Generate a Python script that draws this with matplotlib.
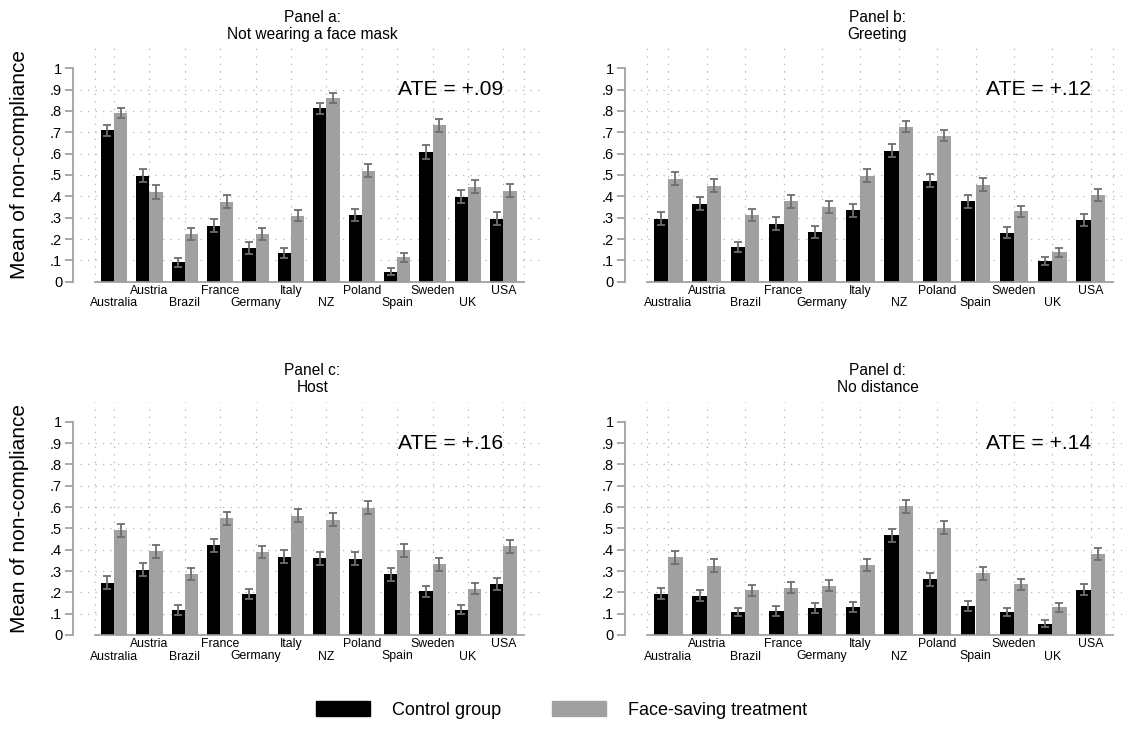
import numpy as np
import matplotlib
matplotlib.use("Agg")
from matplotlib import pyplot as plt
from matplotlib.patches import Patch

plt.rcParams['font.family'] = ['Liberation Sans', 'DejaVu Sans']

countries = ["Australia", "Austria", "Brazil", "France", "Germany", "Italy",
             "NZ", "Poland", "Spain", "Sweden", "UK", "USA"]

# Panel a: not wearing a face mask
mask_control = [0.710, 0.497, 0.092, 0.263, 0.158, 0.136, 0.813, 0.312, 0.047, 0.607, 0.398, 0.295]
mask_treat = [0.790, 0.420, 0.224, 0.375, 0.223, 0.310, 0.859, 0.520, 0.114, 0.732, 0.445, 0.426]
mask_control_err = [0.026, 0.031, 0.021, 0.030, 0.027, 0.023, 0.026, 0.029, 0.016, 0.033, 0.031, 0.030]
mask_treat_err = [0.025, 0.032, 0.027, 0.030, 0.027, 0.027, 0.023, 0.031, 0.021, 0.029, 0.030, 0.031]

# Panel b: greeting
greet_control = [0.296, 0.365, 0.163, 0.271, 0.235, 0.335, 0.614, 0.473, 0.376, 0.229, 0.097, 0.287]
greet_treat = [0.483, 0.450, 0.313, 0.376, 0.350, 0.497, 0.726, 0.685, 0.455, 0.329, 0.138, 0.406]
greet_control_err = [0.030, 0.030, 0.024, 0.030, 0.028, 0.030, 0.030, 0.030, 0.030, 0.026, 0.018, 0.028]
greet_treat_err = [0.031, 0.030, 0.028, 0.030, 0.028, 0.030, 0.026, 0.028, 0.030, 0.028, 0.021, 0.030]

# Panel c: host
host_control = [0.246, 0.306, 0.118, 0.420, 0.193, 0.368, 0.360, 0.357, 0.284, 0.204, 0.119, 0.240]
host_treat = [0.491, 0.393, 0.287, 0.547, 0.389, 0.560, 0.541, 0.596, 0.397, 0.332, 0.216, 0.415]
host_control_err = [0.029, 0.030, 0.022, 0.030, 0.025, 0.030, 0.030, 0.030, 0.030, 0.026, 0.022, 0.028]
host_treat_err = [0.031, 0.030, 0.028, 0.030, 0.030, 0.030, 0.030, 0.030, 0.030, 0.030, 0.026, 0.030]

# Panel d: no distance
dist_control = [0.193, 0.185, 0.107, 0.113, 0.127, 0.133, 0.467, 0.262, 0.136, 0.107, 0.053, 0.212]
dist_treat = [0.364, 0.324, 0.209, 0.221, 0.232, 0.328, 0.603, 0.503, 0.290, 0.237, 0.130, 0.380]
dist_control_err = [0.026, 0.025, 0.020, 0.022, 0.022, 0.023, 0.030, 0.030, 0.023, 0.020, 0.015, 0.026]
dist_treat_err = [0.030, 0.030, 0.026, 0.026, 0.027, 0.030, 0.030, 0.030, 0.030, 0.027, 0.022, 0.030]

titles = ["Panel a:\nNot wearing a face mask", "Panel b:\nGreeting",
          "Panel c:\nHost", "Panel d:\nNo distance"]
ates = ["ATE = +.09", "ATE = +.12", "ATE = +.16", "ATE = +.14"]

panels = [
    (mask_control, mask_treat, mask_control_err, mask_treat_err),
    (greet_control, greet_treat, greet_control_err, greet_treat_err),
    (host_control, host_treat, host_control_err, host_treat_err),
    (dist_control, dist_treat, dist_control_err, dist_treat_err),
]

W, H = 1123, 738
fig = plt.figure(figsize=(W / 100, H / 100), dpi=100)

# pixel geometry: (axes left, axes right, first group centre, last group centre, spine x)
cols = [(80, 545, 114.0, 503.4, 73.3), (633, 1122, 668.3, 1090.7, 625.0)]
# (axes top, y=0, y=1)
rows = [(48, 281.7, 68.3), (401.7, 635.0, 421.7)]

BLACK = "#000000"
GREY = "#a0a0a0"
ERR = "#6e6e6e"
AXIS = "#9a9a9a"
GRID = "#b4b4b4"

x = np.arange(len(countries))
bw = 0.373

for k, (ctrl, trt, ctrl_e, trt_e) in enumerate(panels):
    r, c = divmod(k, 2)
    left, right, c0, c11, spine_x = cols[c]
    top, y0, y1 = rows[r]
    per = (y0 - y1)
    ytop = (y0 - top) / per
    ax = fig.add_axes([left / W, 1 - y0 / H, (right - left) / W, (y0 - top) / H])
    step = (c11 - c0) / 11
    ax.set_xlim((left - c0) / step, 11 + (right - c11) / step)
    ax.set_ylim(0, ytop)

    lo_edge, hi_edge = -0.55, 11.57
    # dotted grid
    for gy in np.arange(0, 1.0, 0.1):
        ax.axhline(gy, color=GRID, lw=0.9, ls=(0, (1, 5)), zorder=0)
    for gx in [lo_edge] + list(x) + [hi_edge]:
        ax.axvline(gx, color=GRID, lw=0.9, ls=(0, (1, 5)), zorder=0)

    ax.bar(x - bw / 2, ctrl, bw, color=BLACK, zorder=2)
    ax.bar(x + bw / 2, trt, bw, color=GREY, zorder=2)
    ax.errorbar(x - bw / 2, ctrl, yerr=ctrl_e, fmt="none", ecolor=ERR,
                elinewidth=1.3, capsize=3, capthick=1.3, zorder=3)
    ax.errorbar(x + bw / 2, trt, yerr=trt_e, fmt="none", ecolor=ERR,
                elinewidth=1.3, capsize=3, capthick=1.3, zorder=3)

    # baseline
    ax.plot([lo_edge, hi_edge], [0, 0], color=AXIS, lw=1.2, zorder=4, clip_on=False)

    for s in ["top", "right", "bottom"]:
        ax.spines[s].set_visible(False)
    ax.spines["left"].set_position(("outward", (left - spine_x) * 0.72))
    ax.spines["left"].set_bounds(0, 1)
    ax.spines["left"].set_color(AXIS)
    ax.spines["left"].set_linewidth(1.2)
    ax.set_yticks(np.arange(0, 1.01, 0.1))
    ax.set_yticklabels(["0"] + ["." + str(i) for i in range(1, 10)] + ["1"])
    ax.tick_params(axis="y", length=6, width=1.2, color=AXIS, labelsize=10.5, pad=2)
    ax.set_xticks([])

    for i, name in enumerate(countries):
        off = -9 if i % 2 == 1 else -21.5
        ax.annotate(name, xy=(i, 0), xytext=(0, off), textcoords="offset pixels",
                    ha="center", va="center", fontsize=8.8)

    t1, t2 = titles[k].split("\n")
    ax.annotate(t1, xy=(0.5, 1), xycoords="axes fraction", xytext=(0, 31),
                textcoords="offset pixels", ha="center", va="center", fontsize=11.2)
    ax.annotate(t2, xy=(0.5, 1), xycoords="axes fraction", xytext=(0, 14),
                textcoords="offset pixels", ha="center", va="center", fontsize=11.2)

    ax.text(11, 0.9, ates[k], ha="right", va="center", fontsize=15.2)

    if c == 0:
        ymid = 1 - (top + y0) / 2 / H
        fig.text(20 / W, ymid, "Mean of non-compliance", rotation=90,
                 ha="center", va="center", fontsize=15)

handles = [Patch(facecolor=BLACK, edgecolor=BLACK, label="Control group"),
           Patch(facecolor=GREY, edgecolor=GREY, label="Face-saving treatment")]
fig.legend(handles=handles, loc="center", bbox_to_anchor=(0.5, 1 - 710 / H),
           ncol=2, frameon=False, fontsize=13, handlelength=3.0, handleheight=0.85,
           columnspacing=2.8, handletextpad=1.2)

fig.savefig("out.png", dpi=100)
